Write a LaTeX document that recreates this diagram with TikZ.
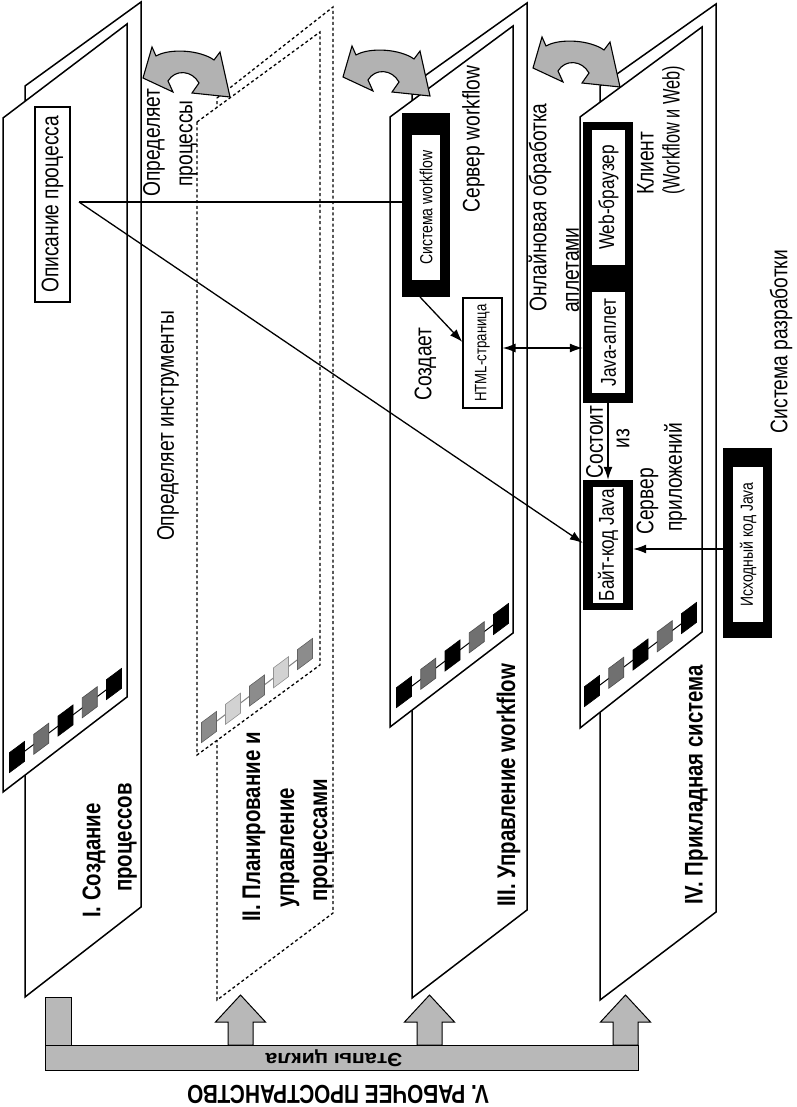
\documentclass[tikz,border=0pt]{standalone}
\usepackage{fontspec}
\setmainfont{Liberation Sans}[FakeStretch=0.8]
\usetikzlibrary{arrows.meta}
\definecolor{arrgray}{HTML}{B2B2B2}
\definecolor{bargray}{HTML}{B8B8B8}
\definecolor{sqgray}{HTML}{707070}
\definecolor{sqmed}{HTML}{8C8C8C}
\definecolor{sqlight}{HTML}{D2D2D2}
\newcommand\chainsq[3]{\filldraw[fill=#3,draw=#3!70!black,line width=0.6pt] (#1-7.5,#2-4.4) -- (#1+7.5,#2-15.6) -- (#1+7.5,#2+4.4) -- (#1-7.5,#2+15.6) -- cycle;}
\newcommand\bendarrow[1]{%
  \begin{scope}[shift={#1}]
  \filldraw[fill=arrgray,draw=black,line width=1.1pt,line join=miter]
    (0,0) -- (9,-31) -- (13,-22) .. controls (27,-30) and (57,-28) .. (71,-18)
    -- (77,-26) -- (87,19) -- (49,15) -- (56,5) .. controls (49,-8) and (32,-9) .. (25,3)
    -- (30,14) -- cycle;
  \end{scope}}
\newcommand\blockup[1]{%
  \filldraw[fill=bargray,draw=black,line width=1pt]
    (#1-12.5,1045) -- (#1-12.5,1022) -- (#1-25,1022) -- (#1,995) -- (#1+25,1022) -- (#1+12.5,1022) -- (#1+12.5,1045) -- cycle;}
\begin{document}
\begin{tikzpicture}[x=1pt,y=-1pt,
  sheet/.style={draw=black,fill=white,line width=1.5pt,line join=miter},
  dsheet/.style={draw=black,fill=white,line width=1.3pt,dash pattern=on 3pt off 2.6pt},
  lbl/.style={rotate=90,inner sep=0pt,font=\fontsize{24}{26}\selectfont},
  ttl/.style={rotate=90,inner sep=0pt,anchor=west,font=\bfseries\fontsize{25.5}{27}\selectfont},
  smallbox/.style={rotate=90,fill=white,inner sep=0pt,font=\fontsize{17.5}{19}\selectfont},
  medbox/.style={rotate=90,fill=white,inner sep=0pt,font=\fontsize{21.5}{23}\selectfont},
  blackbox/.style={fill=black,draw=none,inner sep=0pt},
  conn/.style={line width=1.3pt},
  arr/.style={conn,-{Latex[length=13pt,width=9pt]}},
  darr/.style={conn,{Latex[length=13pt,width=9pt]}-{Latex[length=13pt,width=9pt]}},
  chainline/.style={line width=1pt}
]
\useasboundingbox (0,0) rectangle (796,1107);

% ---------- Panel I ----------
\draw[sheet] (25,86) -- (141,2) -- (141,907) -- (25,997) -- cycle;
\draw[sheet] (3,118) -- (127,24) -- (127,697) -- (3,792) -- cycle;
\draw[chainline] (17,757) -- (114,684);
\chainsq{17}{757}{black}
\chainsq{41.25}{738.75}{sqgray}
\chainsq{65.5}{720.5}{black}
\chainsq{89.75}{702.25}{sqgray}
\chainsq{114}{684}{black}

% ---------- Panel II (dashed) ----------
\draw[dsheet] (217,98) -- (333,7) -- (333,913) -- (217,1000) -- cycle;
\draw[dsheet] (197,122) -- (320,32) -- (320,665) -- (197,755) -- cycle;
\draw[chainline,draw=gray] (209,727) -- (305,654);
\chainsq{209}{727}{sqmed}
\chainsq{233}{708.75}{sqlight}
\chainsq{257}{690.5}{sqmed}
\chainsq{281}{672.25}{sqlight}
\chainsq{305}{654}{sqmed}

% ---------- Panel III ----------
\draw[sheet] (412,85) -- (527,3) -- (527,910) -- (412,998) -- cycle;
\draw[sheet] (390,117) -- (513,26) -- (513,633) -- (390,727) -- cycle;
\draw[chainline] (404,692) -- (501,619);
\chainsq{404}{692}{black}
\chainsq{428.25}{673.75}{sqgray}
\chainsq{452.5}{655.5}{black}
\chainsq{476.75}{637.25}{sqgray}
\chainsq{501}{619}{black}

% ---------- Panel IV ----------
\draw[sheet] (600,86) -- (716,4) -- (716,912) -- (600,1000) -- cycle;
\draw[sheet] (580,117) -- (702,27) -- (702,632) -- (580,728) -- cycle;
\draw[chainline] (592,691) -- (689,618);
\chainsq{592}{691}{black}
\chainsq{616.25}{672.75}{sqgray}
\chainsq{640.5}{654.5}{black}
\chainsq{664.75}{636.25}{sqgray}
\chainsq{689}{618}{black}

% ---------- curved double arrows ----------
\bendarrow{(143,78)}
\bendarrow{(343,77)}
\bendarrow{(533,68)}

% ---------- boxes ----------
\node[draw=black,line width=1.4pt,rotate=90,inner sep=0pt,minimum width=195pt,minimum height=35pt,
      font=\fontsize{24}{26}\selectfont] (desc) at (52.5,204.5) {Описание процесса};

\node[blackbox,minimum width=48pt,minimum height=184pt] (sysO) at (426,205) {};
\node[smallbox,minimum width=145pt,minimum height=28pt] (sys) at (426,207.5) {Система workflow};

\node[draw=black,line width=1.2pt,smallbox,minimum width=110pt,minimum height=39pt,font=\fontsize{16.5}{18}\selectfont] (html) at (482.5,353) {HTML-страница};

\node[blackbox,minimum width=50pt,minimum height=281pt] (clientO) at (608,262.5) {};
\node[medbox,minimum width=135pt,minimum height=33pt] (web) at (608.5,197.5) {Web-браузер};
\node[medbox,minimum width=101pt,minimum height=33pt] (java) at (608.5,342.5) {Java-аплет};

\node[blackbox,minimum width=50pt,minimum height=130pt] (byteO) at (608,545) {};
\node[medbox,minimum width=116pt,minimum height=30pt] (byte) at (608,545) {Байт-код Java};

\node[blackbox,minimum width=49pt,minimum height=190pt] (srcO) at (747.5,543) {};
\node[smallbox,minimum width=155pt,minimum height=30pt] (src) at (748,544.5) {Исходный код Java};

% ---------- labels ----------
\node[lbl] (opr1) at (154,142.5) {Определяет};
\node[lbl] (opr2) at (188.5,143.5) {процессы};
\node[lbl] (instr) at (168,426) {Определяет инструменты};
\node[lbl] (server) at (473.5,139) {Сервер workflow};
\node[lbl] (creates) at (425.5,364) {Создает};
\node[lbl,anchor=west] (online1) at (540,312) {Онлайновая обработка};
\node[lbl,anchor=west] (online2) at (572.5,313) {аплетами};
\node[lbl,anchor=west] (client1) at (645.5,195) {Клиент};
\node[lbl,anchor=west] (client2) at (673.5,195) {\scalebox{0.85}[1]{(Workflow и Web)}};
\node[lbl] (cons1) at (594.5,442) {Состоит};
\node[lbl] (cons2) at (623,438.5) {из};
\node[lbl,anchor=west] (appsrv1) at (647.5,535) {Сервер};
\node[lbl,anchor=west] (appsrv2) at (675.5,532) {приложений};
\node[lbl] (devsys) at (781,341.5) {Система разработки};

\node[ttl] (t1a) at (94,918) {I. Создание};
\node[ttl] (t1b) at (127.5,892) {процессов};
\node[ttl] (t2a) at (254,922) {II. Планирование и};
\node[ttl] (t2b) at (290,908) {управление};
\node[ttl] (t2c) at (323,902) {процессами};
\node[ttl] (t3) at (508.5,907) {III. Управление workflow};
\node[ttl] (t4) at (696.5,905) {IV. Прикладная система};

% ---------- connectors ----------
\coordinate (dstart) at (79,202);
\coordinate (sysb) at (420,297);
\draw[conn] (dstart) -- (sysO.west |- dstart);
\draw[arr] (dstart) -- (byteO.west |- 0,543);
\draw[arr] (sysb) -- (html.north |- 0,342);
\draw[darr] (html.south |- 0,348) -- (clientO.west |- 0,348);
\draw[arr] (clientO.south) -- (byteO.north);
\draw[arr] (srcO.west |- 0,549) -- (byteO.east |- 0,549);

% ---------- bottom ----------
\filldraw[fill=bargray,draw=black,line width=1pt] (45,997) rectangle (71,1045);
\blockup{240.5}
\blockup{429.5}
\blockup{625.5}
\filldraw[fill=bargray,draw=black,line width=1pt] (45,1045) rectangle (638,1070);
\node[rotate=180,inner sep=0pt,font=\bfseries\fontsize{19}{21}\selectfont] (stages) at (334,1058) {\scalebox{1.4}[1]{Этапы цикла}};
\node[rotate=180,inner sep=0pt,font=\bfseries\fontsize{26}{28}\selectfont] (workspace) at (338,1094) {V. РАБОЧЕЕ ПРОСТРАНСТВО};
\end{tikzpicture}
\end{document}
